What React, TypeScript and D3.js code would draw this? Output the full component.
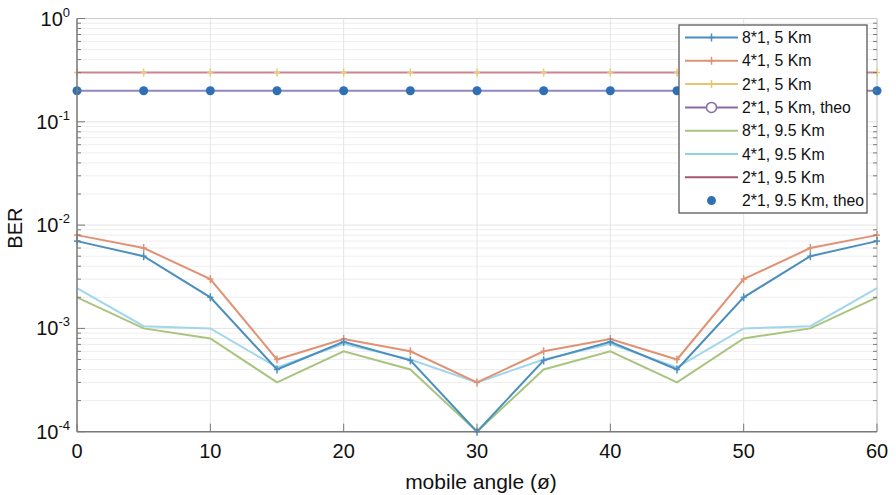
import React from "react";
import * as d3 from "d3";

const angles = [0, 5, 10, 15, 20, 25, 30, 35, 40, 45, 50, 55, 60];
const ber8x1_5 = [7e-3, 5e-3, 2e-3, 4e-4, 7.4e-4, 4.9e-4, 1e-4, 4.9e-4, 7.4e-4, 4e-4, 2e-3, 5e-3, 7e-3];
const ber4x1_5 = [8e-3, 6e-3, 3e-3, 5e-4, 7.9e-4, 6e-4, 3e-4, 6e-4, 7.9e-4, 5e-4, 3e-3, 6e-3, 8e-3];
const ber2x1_5 = [0.3, 0.3, 0.3, 0.3, 0.3, 0.3, 0.3, 0.3, 0.3, 0.3, 0.3, 0.3, 0.3];
const ber2x1_5_theo = [0.2, 0.2, 0.2, 0.2, 0.2, 0.2, 0.2, 0.2, 0.2, 0.2, 0.2, 0.2, 0.2];
const ber8x1_95 = [2e-3, 1e-3, 8e-4, 3e-4, 6e-4, 4e-4, 1e-4, 4e-4, 6e-4, 3e-4, 8e-4, 1e-3, 2e-3];
const ber4x1_95 = [2.45e-3, 1.05e-3, 1e-3, 4.2e-4, 7.1e-4, 5e-4, 3e-4, 5e-4, 7.1e-4, 4.2e-4, 1e-3, 1.05e-3, 2.45e-3];
const ber2x1_95 = [0.3, 0.3, 0.3, 0.3, 0.3, 0.3, 0.3, 0.3, 0.3, 0.3, 0.3, 0.3, 0.3];
const ber2x1_95_theo = [0.2, 0.2, 0.2, 0.2, 0.2, 0.2, 0.2, 0.2, 0.2, 0.2, 0.2, 0.2, 0.2];

const xTicks = [0, 10, 20, 30, 40, 50, 60];
const yExps = [0, -1, -2, -3, -4];
const legendLabels = [
  "8*1, 5 Km",
  "4*1, 5 Km",
  "2*1, 5 Km",
  "2*1, 5 Km, theo",
  "8*1, 9.5 Km",
  "4*1, 9.5 Km",
  "2*1, 9.5 Km",
  "2*1, 9.5 Km, theo",
];

type S = { name: string; data: number[]; color: string; width: number; marker: string; line: boolean };

const series: S[] = [
  { name: legendLabels[6], data: ber2x1_95, color: "#c98592", width: 2, marker: "none", line: true },
  { name: legendLabels[3], data: ber2x1_5_theo, color: "#9088c0", width: 2, marker: "none", line: true },
  { name: legendLabels[2], data: ber2x1_5, color: "#ecc97a", width: 1, marker: "plus", line: false },
  { name: legendLabels[7], data: ber2x1_95_theo, color: "#2f70b5", width: 1, marker: "dot", line: false },
  { name: legendLabels[4], data: ber8x1_95, color: "#a9c47f", width: 2, marker: "none", line: true },
  { name: legendLabels[5], data: ber4x1_95, color: "#a2d6ea", width: 2, marker: "none", line: true },
  { name: legendLabels[1], data: ber4x1_5, color: "#df9274", width: 2, marker: "plus", line: true },
  { name: legendLabels[0], data: ber8x1_5, color: "#4a8fbd", width: 2, marker: "plus", line: true },
];

const legendStyle = [
  { color: "#4a8fbd", marker: "plus", line: true },
  { color: "#df9274", marker: "plus", line: true },
  { color: "#e8c46e", marker: "plus", line: true },
  { color: "#8a6aa0", marker: "circle", line: true },
  { color: "#a9c47f", marker: "none", line: true },
  { color: "#8fd0e6", marker: "none", line: true },
  { color: "#a65570", marker: "none", line: true },
  { color: "#2f70b5", marker: "dot", line: false },
];

const W = 896, H = 495;
const L = 77, R = 877, T = 18.5, B = 431.7;

export default function App() {
  const x = d3.scaleLinear().domain([0, 60]).range([L, R]);
  const y = d3.scaleLog().domain([1e-4, 1]).range([B, T]);
  const font = "Liberation Sans, Arial, sans-serif";

  const minor: number[] = [];
  for (let e = -4; e < 0; e++) for (let k = 2; k <= 9; k++) minor.push(k * Math.pow(10, e));

  const lineGen = d3.line<number>().x((_, i) => x(angles[i])).y((d) => y(d));

  const marker = (type: string, cx: number, cy: number, color: string, key: string) => {
    if (type === "plus")
      return (
        <g key={key} stroke={color} strokeWidth={1.5}>
          <line x1={cx - 3} x2={cx + 3} y1={cy} y2={cy} />
          <line x1={cx} x2={cx} y1={cy - 4} y2={cy + 4} />
        </g>
      );
    if (type === "dot") return <circle key={key} cx={cx} cy={cy} r={4.5} fill={color} />;
    if (type === "circle") return <circle key={key} cx={cx} cy={cy} r={5} fill="white" stroke={color} strokeWidth={1.5} />;
    return null;
  };

  return (
    <svg width={W} height={H} style={{ position: "absolute", left: 0, top: 0, background: "white" }} fontFamily={font}>
      <rect x={0} y={0} width={W} height={H} fill="white" />
      {minor.map((v, i) => (
        <line key={"mg" + i} x1={L} x2={R} y1={y(v)} y2={y(v)} stroke="#eeeeee" strokeWidth={1} />
      ))}
      {yExps.map((e) => (
        <line key={"yg" + e} x1={L} x2={R} y1={y(Math.pow(10, e))} y2={y(Math.pow(10, e))} stroke="#e4e4e4" strokeWidth={1} />
      ))}
      {xTicks.map((t) => (
        <line key={"xg" + t} x1={x(t)} x2={x(t)} y1={T} y2={B} stroke="#e4e4e4" strokeWidth={1} />
      ))}
      <line x1={L} x2={R} y1={T} y2={T} stroke="#cccccc" strokeWidth={1} />
      <line x1={R} x2={R} y1={T} y2={B} stroke="#cccccc" strokeWidth={1} />
      {series.map((s, si) => (
        <g key={"s" + si}>
          {s.line && <path d={lineGen(s.data) || ""} fill="none" stroke={s.color} strokeWidth={s.width} />}
          {s.marker !== "none" && s.data.map((v, i) => marker(s.marker, x(angles[i]), y(v), s.color, "m" + si + "_" + i))}
        </g>
      ))}
      <line x1={L} x2={L} y1={T} y2={B} stroke="#7a7a7a" strokeWidth={1.5} />
      <line x1={L} x2={R} y1={B} y2={B} stroke="#7a7a7a" strokeWidth={1.5} />
      {minor.map((v, i) => (
        <g key={"mt" + i} stroke="#7a7a7a" strokeWidth={1}>
          <line x1={L} x2={L + 4} y1={y(v)} y2={y(v)} />
          <line x1={R} x2={R - 4} y1={y(v)} y2={y(v)} />
        </g>
      ))}
      {yExps.map((e) => (
        <g key={"yt" + e}>
          <line x1={L} x2={L + 8} y1={y(Math.pow(10, e))} y2={y(Math.pow(10, e))} stroke="#7a7a7a" strokeWidth={1} />
          <text x={70} y={y(Math.pow(10, e)) + 7} textAnchor="end" fontSize={20} fill="#111">
            10
            <tspan fontSize={13} dy={-9}>{String(e)}</tspan>
          </text>
        </g>
      ))}
      {xTicks.map((t) => (
        <g key={"xt" + t}>
          <line x1={x(t)} x2={x(t)} y1={B} y2={B - 8} stroke="#7a7a7a" strokeWidth={1} />
          <text x={x(t)} y={458} textAnchor="middle" fontSize={20} fill="#111">{t}</text>
        </g>
      ))}
      <text x={481} y={489} textAnchor="middle" fontSize={21} fill="#111">mobile angle (ø)</text>
      <text transform={`translate(22,${(T + B) / 2 + 3}) rotate(-90)`} textAnchor="middle" fontSize={20} fill="#111">BER</text>
      <g>
        <rect x={679} y={25} width={188} height={188} fill="white" stroke="#5a5a5a" strokeWidth={1.3} />
        {legendLabels.map((lab, i) => {
          const ly = 37.5 + i * 23.3;
          const st = legendStyle[i];
          return (
            <g key={"lg" + i}>
              {st.line && <line x1={685} x2={738} y1={ly} y2={ly} stroke={st.color} strokeWidth={2} />}
              {marker(st.marker, 711.5, ly, st.color, "lm" + i)}
              <text x={742} y={ly + 5.5} fontSize={15.8} fill="#111">{lab}</text>
            </g>
          );
        })}
      </g>
    </svg>
  );
}
